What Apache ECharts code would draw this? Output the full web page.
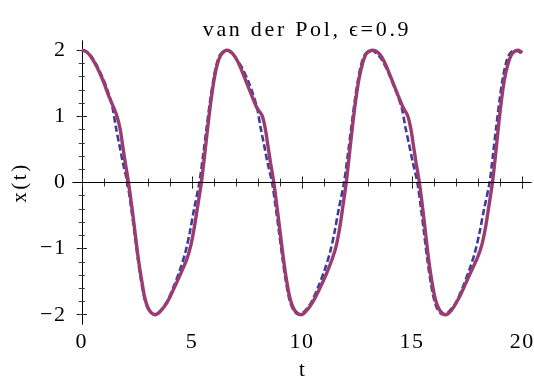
<!DOCTYPE html>
<html>
<head>
<meta charset="utf-8">
<script src="https://cdn.jsdelivr.net/npm/echarts@6/dist/echarts.min.js"></script>
<style>
  html, body { margin: 0; padding: 0; background: #fff; }
  #chart { width: 534px; height: 381px; }
</style>
</head>
<body>
<div id="chart"></div>
<script>
// solid curve (approximation)
const tSolid = [
  0, 0.20, 0.40, 0.68, 0.99, 1.21, 1.40, 1.59, 1.74, 1.85, 1.97, 2.12, 2.27, 2.42, 2.57, 2.73, 2.88, 3.08,
  3.33, 3.56, 3.86, 4.16, 4.46, 4.77, 4.95, 5.12, 5.28, 5.43, 5.58, 5.72, 5.86, 6.00, 6.15, 6.32, 6.60,
  6.85, 7.10, 7.40, 7.70, 7.95, 8.19, 8.34, 8.45, 8.57, 8.72, 8.86, 9.01, 9.16, 9.31, 9.47, 9.68,
  9.95, 10.20, 10.50, 10.81, 11.11, 11.38, 11.56, 11.72, 11.87, 12.01, 12.15, 12.29, 12.43, 12.58, 12.75, 12.93, 13.22,
  13.50, 13.75, 14.05, 14.35, 14.60, 14.80, 14.95, 15.06, 15.18, 15.33, 15.47, 15.61, 15.75, 15.90, 16.06, 16.27,
  16.52, 16.79, 17.09, 17.39, 17.70, 17.98, 18.17, 18.34, 18.50, 18.65, 18.79, 18.92, 19.05, 19.19, 19.36, 19.55, 19.82, 20.00
];
const xSolid = [
  2.00, 1.98, 1.91, 1.75, 1.52, 1.32, 1.17, 1.01, 0.81, 0.57, 0.31, 0.00, -0.36, -0.76, -1.16, -1.50, -1.77, -1.94,
  -2.00, -1.95, -1.82, -1.62, -1.40, -1.16, -0.95, -0.66, -0.32, 0.00, 0.42, 0.84, 1.22, 1.54, 1.78, 1.93, 2.00,
  1.95, 1.82, 1.58, 1.33, 1.13, 1.01, 0.80, 0.56, 0.30, 0.00, -0.36, -0.76, -1.16, -1.50, -1.77, -1.94,
  -2.00, -1.94, -1.80, -1.60, -1.38, -1.15, -0.95, -0.67, -0.33, 0.00, 0.42, 0.84, 1.22, 1.55, 1.80, 1.95, 2.00,
  1.95, 1.82, 1.58, 1.33, 1.13, 1.01, 0.80, 0.56, 0.30, 0.00, -0.36, -0.76, -1.16, -1.50, -1.77, -1.94,
  -2.00, -1.93, -1.77, -1.56, -1.33, -1.13, -0.94, -0.67, -0.33, 0.00, 0.42, 0.84, 1.22, 1.55, 1.80, 1.95, 2.00, 1.96
];

// dashed curve (numerical)
const tDashed = [
  0, 0.20, 0.40, 0.68, 0.99, 1.20, 1.39, 1.55, 1.70, 1.86, 2.07, 2.24, 2.40, 2.55, 2.70, 2.86, 3.06,
  3.30, 3.54, 3.84, 4.14, 4.44, 4.70, 4.90, 5.10, 5.34, 5.52, 5.68, 5.83, 5.98, 6.13, 6.30, 6.56,
  6.80, 7.00, 7.27, 7.56, 7.77, 7.96, 8.12, 8.27, 8.43, 8.64, 8.81, 8.97, 9.12, 9.27, 9.43, 9.63,
  9.87, 10.11, 10.41, 10.71, 11.01, 11.27, 11.47, 11.67, 11.91, 12.09, 12.25, 12.40, 12.55, 12.70, 12.87, 13.13,
  13.36, 13.62, 13.90, 14.15, 14.35, 14.53, 14.70, 14.86, 15.03, 15.24, 15.40, 15.55, 15.69, 15.84, 16.00, 16.19,
  16.43, 16.68, 16.98, 17.28, 17.58, 17.85, 18.06, 18.27, 18.52, 18.68, 18.83, 18.97, 19.11, 19.26, 19.42, 19.65, 19.85, 20.00
];
const xDashed = [
  2.00, 1.98, 1.92, 1.77, 1.55, 1.36, 1.14, 0.83, 0.58, 0.31, 0.00, -0.38, -0.78, -1.16, -1.50, -1.77, -1.94,
  -2.00, -1.95, -1.82, -1.60, -1.34, -1.06, -0.76, -0.40, 0.00, 0.44, 0.86, 1.24, 1.56, 1.80, 1.94, 2.00,
  1.96, 1.88, 1.74, 1.53, 1.34, 1.13, 0.83, 0.58, 0.31, 0.00, -0.38, -0.78, -1.16, -1.50, -1.77, -1.94,
  -2.00, -1.95, -1.82, -1.60, -1.34, -1.06, -0.76, -0.40, 0.00, 0.44, 0.86, 1.24, 1.56, 1.80, 1.94, 2.00,
  1.96, 1.86, 1.68, 1.48, 1.31, 1.13, 0.83, 0.58, 0.31, 0.00, -0.38, -0.78, -1.16, -1.50, -1.77, -1.94,
  -2.00, -1.95, -1.82, -1.60, -1.34, -1.06, -0.76, -0.40, 0.00, 0.44, 0.86, 1.24, 1.56, 1.80, 1.94, 2.00, 1.98, 1.94
];

const xTicks = [0, 5, 10, 15, 20];
const xMinorTicks = [0, 1, 2, 3, 4, 5, 6, 7, 8, 9, 10, 11, 12, 13, 14, 15, 16, 17, 18, 19, 20];
const yTicks = [-2, -1, 0, 1, 2];
const yMinorTicks = [-2, -1.8, -1.6, -1.4, -1.2, -1, -0.8, -0.6, -0.4, -0.2, 0,
  0.2, 0.4, 0.6, 0.8, 1, 1.2, 1.4, 1.6, 1.8, 2];

const TITLE = 'van der Pol, \u03f5=0.9';
const FONT = "'Liberation Serif', 'DejaVu Serif', serif";
const X_MIN = -0.4, X_MAX = 20.4, Y_MIN = -2.14, Y_MAX = 2.14;

// the reference text is set a little loose: add canvas letter spacing per string
const SPACING = { 'x(t)': '2.5px', t: '0px' };
SPACING[TITLE] = '2.7px';
const fillText0 = CanvasRenderingContext2D.prototype.fillText;
CanvasRenderingContext2D.prototype.fillText = function (text, x, y, w) {
  if (!('letterSpacing' in this)) return fillText0.apply(this, arguments);
  const prev = this.letterSpacing;
  this.letterSpacing = SPACING[text] || (/^[\u22120-9]+$/.test(text) ? '1.5px' : '0px');
  const r = w === undefined ? fillText0.call(this, text, x, y) : fillText0.call(this, text, x, y, w);
  this.letterSpacing = prev;
  return r;
};

function zip(ts, xs) {
  return ts.map((t, i) => [t, xs[i]]);
}

function axis(min, max, position, ticks, len, opts) {
  opts = opts || {};
  return {
    type: 'value',
    min: min,
    max: max,
    position: position,
    axisLine: { show: !!opts.line, lineStyle: { color: '#000', width: 1 } },
    axisTick: {
      show: true,
      inside: true,
      length: len,
      customValues: ticks,
      lineStyle: { color: opts.tickColor || '#000', width: 1 }
    },
    axisLabel: opts.label ? {
      show: true,
      customValues: ticks,
      margin: opts.margin,
      color: '#000',
      fontFamily: FONT,
      fontSize: 22,
      formatter: (v) => String(v).replace('-', '\u2212')
    } : { show: false },
    splitLine: { show: false },
    name: opts.name || '',
    nameLocation: 'middle',
    nameGap: opts.nameGap || 0,
    nameTextStyle: { color: '#000', fontFamily: FONT, fontSize: 21 }
  };
}

const chart = echarts.init(document.getElementById('chart'));

chart.setOption({
  animation: false,
  backgroundColor: '#fff',
  title: {
    text: TITLE,
    left: 302,
    textAlign: 'center',
    top: 14,
    textStyle: { color: '#000', fontFamily: FONT, fontSize: 22, fontWeight: 'normal' }
  },
  grid: { left: 73, right: 3, top: 41, bottom: 57, containLabel: false, outerBoundsMode: 'none' },
  xAxis: [
    axis(X_MIN, X_MAX, 'bottom', xTicks, 6, { line: true, label: true, margin: 7, name: 't', nameGap: 36 }),
    axis(X_MIN, X_MAX, 'top', xTicks, 6, { line: true }),
    axis(X_MIN, X_MAX, 'bottom', xMinorTicks, 4, { tickColor: '#333' }),
    axis(X_MIN, X_MAX, 'top', xMinorTicks, 4, { tickColor: '#333' })
  ],
  yAxis: [
    axis(Y_MIN, Y_MAX, 'left', yTicks, 5, { line: true, label: true, margin: 6.5, name: 'x(t)', nameGap: 42 }),
    axis(Y_MIN, Y_MAX, 'right', yTicks, 5, { line: true }),
    axis(Y_MIN, Y_MAX, 'left', yMinorTicks, 3, { tickColor: '#333' }),
    axis(Y_MIN, Y_MAX, 'right', yMinorTicks, 3, { tickColor: '#333' })
  ],
  series: [
    {
      name: 'numerical',
      type: 'line',
      data: zip(tDashed, xDashed),
      smooth: 0.3,
      showSymbol: false,
      lineStyle: { color: '#3d3d99', width: 2.6, type: [6.5, 3] },
      markLine: {
        silent: true,
        symbol: 'none',
        label: { show: false },
        lineStyle: { color: '#000', width: 1, type: 'solid' },
        data: [{ yAxis: 0 }]
      }
    },
    {
      name: 'approximation',
      type: 'line',
      data: zip(tSolid, xSolid),
      smooth: 0.3,
      showSymbol: false,
      lineStyle: { color: '#993d71', width: 3.4 }
    }
  ]
});
</script>
</body>
</html>
